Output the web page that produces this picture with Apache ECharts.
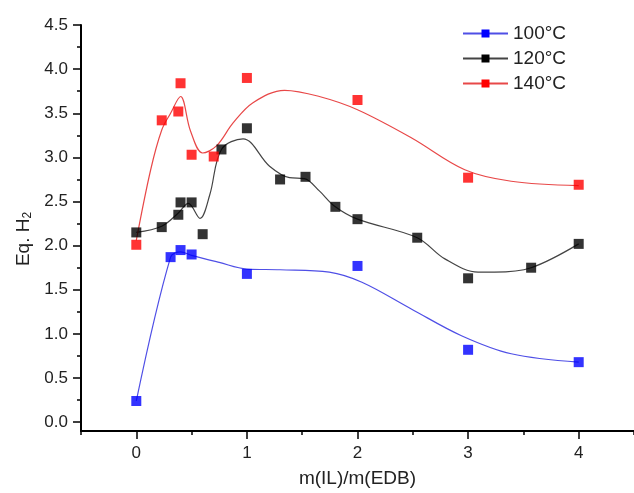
<!DOCTYPE html>
<html>
<head>
<meta charset="utf-8">
<script src="https://cdn.jsdelivr.net/npm/echarts@6/dist/echarts.min.js"></script>
<style>
    html, body { margin: 0; padding: 0; background: #fff; }
    #chart { width: 634px; height: 493px; }
</style>
</head>
<body>
<div id="chart"></div>
<script>
// measured points [m(IL)/m(EDB), Eq. H2]
var pts100 = [[0, 0.24], [0.31, 1.87], [0.4, 1.95], [0.5, 1.9], [1.0, 1.68], [2.0, 1.77], [3.0, 0.82], [4.0, 0.68]];
var pts120 = [[0, 2.15], [0.23, 2.21], [0.38, 2.35], [0.4, 2.49], [0.5, 2.49], [0.6, 2.13], [0.77, 3.09], [1.0, 3.33],
    [1.3, 2.75], [1.53, 2.78], [1.8, 2.44], [2.0, 2.3], [2.54, 2.09], [3.0, 1.63], [3.57, 1.75], [4.0, 2.02]];
var pts140 = [[0, 2.01], [0.23, 3.42], [0.38, 3.52], [0.4, 3.84], [0.5, 3.03], [0.7, 3.01], [1.0, 3.9],
    [2.0, 3.65], [3.0, 2.77], [4.0, 2.69]];

// fitted curves
var fit100 = [[0, 0.24], [0.31, 1.87], [0.4, 1.93], [0.5, 1.89], [0.75, 1.81], [1.0, 1.735], [1.3, 1.727],
    [1.745, 1.7], [2.04, 1.585], [2.49, 1.28], [2.94, 0.98], [3.39, 0.775], [4.0, 0.68]];
var fit120 = [[0, 2.15], [0.23, 2.22], [0.38, 2.37], [0.47, 2.48], [0.576, 2.31], [0.665, 2.58], [0.77, 3.09],
    [0.965, 3.21], [1.205, 2.9], [1.385, 2.77], [1.52, 2.76], [1.655, 2.62], [1.79, 2.45], [2.0, 2.3],
    [2.54, 2.09], [2.79, 1.85], [3.09, 1.7], [3.24, 1.7], [3.57, 1.75], [4.0, 2.02]];
var fit140 = [[0, 2.06], [0.13, 2.86], [0.23, 3.31], [0.31, 3.5], [0.4, 3.69], [0.49, 3.3], [0.6, 3.05],
    [0.725, 3.13], [0.875, 3.39], [1.055, 3.62], [1.34, 3.76], [1.655, 3.69], [2.0, 3.54], [2.49, 3.22],
    [2.97, 2.86], [3.39, 2.73], [4.0, 2.68]];

var names = ["100°C", "120°C", "140°C"];
var xTicks = [0, 1, 2, 3, 4];
var xMinor = [-0.5, 0.5, 1.5, 2.5, 3.5, 4.5];
var yTicks = [0, 0.5, 1, 1.5, 2, 2.5, 3, 3.5, 4, 4.5];
var yMinor = [0.25, 0.75, 1.25, 1.75, 2.25, 2.75, 3.25, 3.75, 4.25];

var font = "Liberation Sans, Arial, sans-serif";
var textColor = "#222";

var chart = echarts.init(document.getElementById("chart"));

function curve(name, data, markColor, lineColor) {
    return {
        name: name,
        type: "line",
        data: data,
        smooth: 0.35,
        symbol: "rect",
        showSymbol: false,
        itemStyle: { color: markColor },
        lineStyle: { color: lineColor, width: 1.2 },
        z: 2,
        silent: true
    };
}

function marks(name, data, color) {
    return {
        name: name,
        type: "scatter",
        data: data,
        symbol: "rect",
        symbolSize: 10,
        itemStyle: { color: color },
        z: 3
    };
}

chart.setOption({
    animation: false,
    textStyle: { fontFamily: font },
    grid: {
        left: 81,
        top: 25,
        width: 555,
        bottom: 61
    },
    legend: {
        data: names,
        orient: "vertical",
        left: 457,
        top: 19,
        itemWidth: 45,
        itemHeight: 10,
        itemGap: 6,
        textStyle: { fontSize: 19, color: textColor, fontFamily: font }
    },
    xAxis: [
        {
            type: "value",
            position: "bottom",
            min: -0.5,
            max: 4.5,
            name: "m(IL)/m(EDB)",
            nameLocation: "middle",
            nameGap: 38,
            nameTextStyle: { fontSize: 19, color: textColor, fontFamily: font },
            axisLine: { onZero: false, lineStyle: { color: "#000", width: 2 } },
            axisTick: { customValues: xTicks, length: 8, lineStyle: { color: "#000", width: 1.5 } },
            axisLabel: { customValues: xTicks, margin: 14, fontSize: 17, color: textColor, fontFamily: font },
            splitLine: { show: false }
        },
        {
            type: "value",
            position: "bottom",
            min: -0.5,
            max: 4.5,
            axisLine: { show: false, onZero: false },
            axisTick: { customValues: xMinor, length: 4, lineStyle: { color: "#000", width: 1.5 } },
            axisLabel: { show: false },
            splitLine: { show: false }
        }
    ],
    yAxis: [
        {
            type: "value",
            position: "left",
            min: -0.1,
            max: 4.5,
            name: "Eq. H{sub|2}",
            nameLocation: "middle",
            nameGap: 46,
            nameTextStyle: {
                fontSize: 19,
                color: textColor,
                fontFamily: font,
                padding: [0, 22, 0, 0],
                rich: {
                    sub: { fontSize: 12, color: textColor, fontFamily: font, padding: [8, 0, 0, 0], verticalAlign: "bottom" }
                }
            },
            axisLine: { onZero: false, lineStyle: { color: "#000", width: 2 } },
            axisTick: { customValues: yTicks, length: 8, lineStyle: { color: "#000", width: 1.5 } },
            axisLabel: {
                customValues: yTicks,
                margin: 13,
                fontSize: 17,
                color: textColor,
                fontFamily: font,
                formatter: function (v) { return v.toFixed(1); }
            },
            splitLine: { show: false }
        },
        {
            type: "value",
            position: "left",
            min: -0.1,
            max: 4.5,
            axisLine: { show: false, onZero: false },
            axisTick: { customValues: yMinor, length: 4, lineStyle: { color: "#000", width: 1.5 } },
            axisLabel: { show: false },
            splitLine: { show: false }
        }
    ],
    series: [
        curve(names[0], fit100, "#0000ff", "#4f4fe6"),
        curve(names[1], fit120, "#000000", "#444444"),
        curve(names[2], fit140, "#ff0000", "#e84848"),
        marks(names[0], pts100, "#0000ff"),
        marks(names[1], pts120, "#000000"),
        marks(names[2], pts140, "#ff0000")
    ]
});
</script>
</body>
</html>
